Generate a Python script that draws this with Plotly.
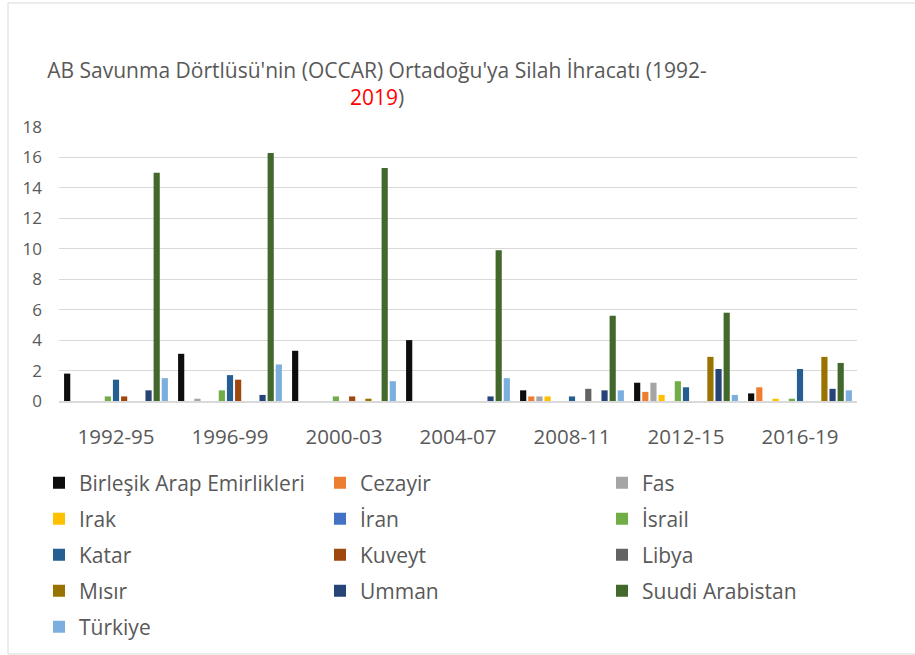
import plotly.graph_objects as go

periods = ["1992-95", "1996-99", "2000-03", "2004-07", "2008-11", "2012-15", "2016-19"]

birlesik_arap_emirlikleri = [1.8, 3.1, 3.3, 4.0, 0.7, 1.2, 0.5]
cezayir = [0, 0, 0, 0, 0.3, 0.6, 0.9]
fas = [0, 0.15, 0, 0, 0.3, 1.2, 0]
irak = [0, 0, 0, 0, 0.3, 0.4, 0.15]
iran = [0, 0, 0, 0, 0, 0, 0]
israil = [0.3, 0.7, 0.3, 0, 0, 1.3, 0.15]
katar = [1.4, 1.7, 0, 0, 0.3, 0.9, 2.1]
kuveyt = [0.3, 1.4, 0.3, 0, 0, 0, 0]
libya = [0, 0, 0, 0, 0.8, 0, 0]
misir = [0, 0, 0.15, 0, 0, 2.9, 2.9]
umman = [0.7, 0.4, 0, 0.3, 0.7, 2.1, 0.8]
suudi_arabistan = [15.0, 16.3, 15.3, 9.9, 5.6, 5.8, 2.5]
turkiye = [1.5, 2.4, 1.3, 1.5, 0.7, 0.4, 0.7]

series_names = ["Birleşik Arap Emirlikleri", "Cezayir", "Fas", "Irak", "İran", "İsrail",
                "Katar", "Kuveyt", "Libya", "Mısır", "Umman", "Suudi Arabistan", "Türkiye"]
series_values = [birlesik_arap_emirlikleri, cezayir, fas, irak, iran, israil,
                 katar, kuveyt, libya, misir, umman, suudi_arabistan, turkiye]
colors = ["#0d0d0d", "#ED7D31", "#A5A5A5", "#FFC000", "#4472C4", "#70AD47",
          "#255E91", "#9E480E", "#636363", "#997300", "#264478", "#43682B", "#7CAFDD"]

y_ticks = [0, 2, 4, 6, 8, 10, 12, 14, 16, 18]

FONT = "Open Sans, sans-serif"
GREY = "#595959"
W, H = 915, 655

# legend grid layout (pixel positions of the legend boxes)
legend_col_x = [39, 320, 602]
legend_row_y = [483, 519, 555, 591, 627]

fig = go.Figure()
layout_legends = {}
for i, (name, vals, col) in enumerate(zip(series_names, series_values, colors)):
    lid = "legend" if i == 0 else f"legend{i + 1}"
    fig.add_trace(go.Bar(x=periods, y=vals, name=name, legend=lid,
                         marker=dict(color=col, line=dict(width=0))))
    r, c = divmod(i, 3)
    layout_legends[lid] = dict(
        xref="container", yref="container",
        x=legend_col_x[c] / W, xanchor="left",
        y=1 - legend_row_y[r] / H, yanchor="middle",
        bgcolor="rgba(0,0,0,0)", borderwidth=0,
        font=dict(family=FONT, size=21, color=GREY), itemwidth=30,
        orientation="h",
    )

L, R, T, B = 59, 58, 127, 254
pw = W - L - R
ph = H - T - B

fig.update_layout(
    width=W, height=H,
    margin=dict(l=L, r=R, t=T, b=B, pad=0, autoexpand=False),
    paper_bgcolor="white", plot_bgcolor="white",
    barmode="group", bargap=0.072, bargroupgap=0.24,
    font=dict(family=FONT, color=GREY),
    title=dict(
        text="AB Savunma Dörtlüsü'nin (OCCAR) Ortadoğu'ya Silah İhracatı (1992-<br><span style='color:#FF0000'>2019</span>)",
        x=377 / W, xanchor="center", y=1 - 78 / H, yanchor="top",
        font=dict(family=FONT, size=21, color=GREY),
    ),
    xaxis=dict(type="category", showgrid=False, showline=True, linecolor="#d9d9d9", linewidth=1.5,
               ticks="", tickfont=dict(family=FONT, size=20.5, color=GREY), ticklabelstandoff=17),
    yaxis=dict(range=[0, 18], tickvals=y_ticks, showgrid=True, gridcolor="#d9d9d9", gridwidth=1,
               zeroline=False, showline=False, ticks="",
               tickfont=dict(family=FONT, size=17, color=GREY), ticklabelstandoff=16),
    showlegend=True,
    **layout_legends,
)

fig.add_shape(type="rect", xref="paper", yref="paper",
              x0=(8 - L) / pw, x1=(930 - L) / pw, y0=(401 - 654) / ph, y1=(401 - 3) / ph,
              line=dict(color="#d9d9d9", width=1), fillcolor="rgba(0,0,0,0)", layer="below")

fig.write_html("out.html", config={"displayModeBar": False},
               post_script="document.body.style.margin='0px';document.body.style.overflow='hidden';")
